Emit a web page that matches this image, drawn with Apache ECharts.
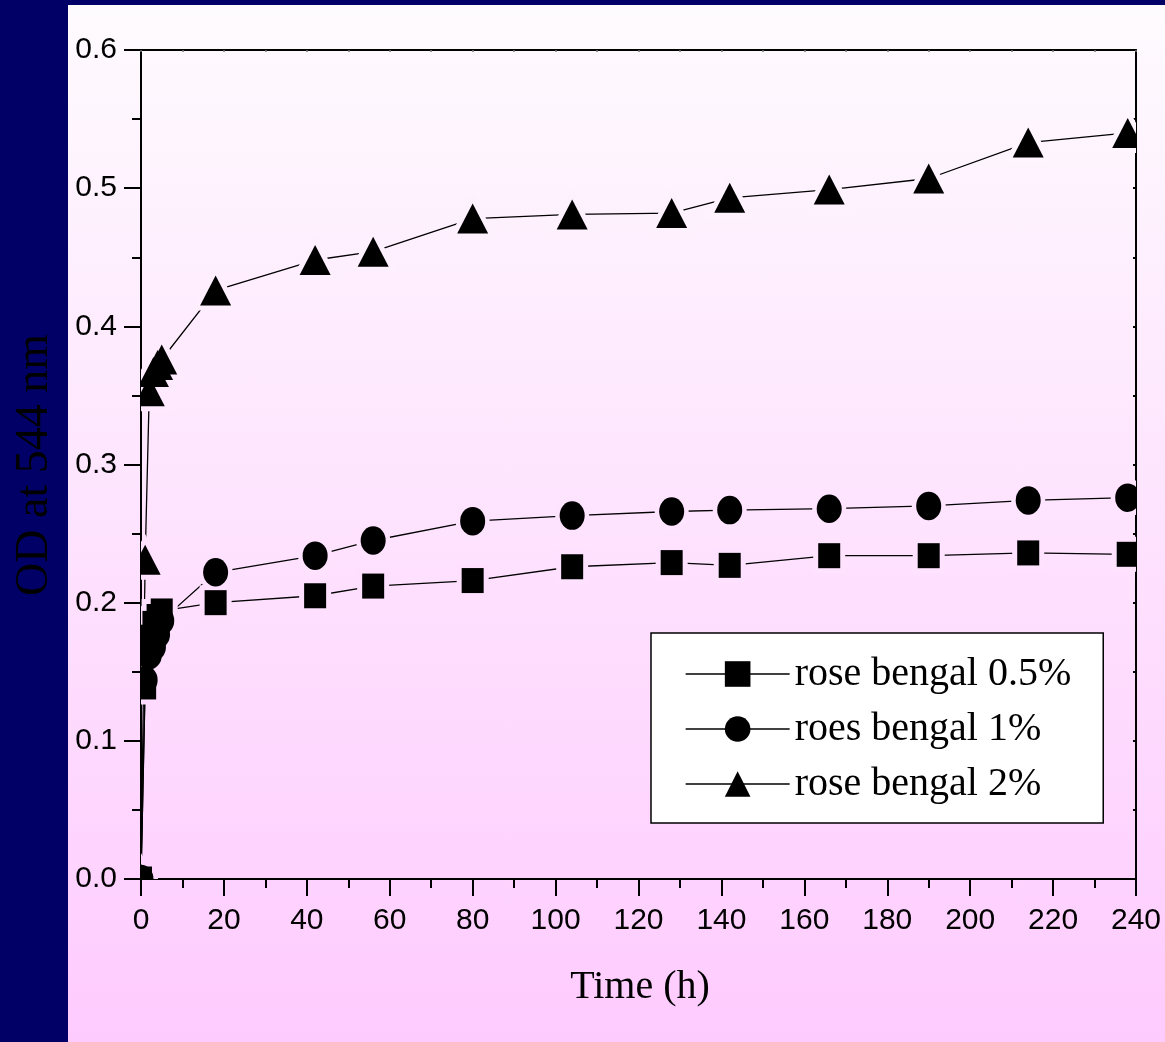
<!DOCTYPE html>
<html>
<head>
<meta charset="utf-8">
<script src="https://cdn.jsdelivr.net/npm/echarts@6/dist/echarts.min.js"></script>
<style>
  html, body { margin: 0; padding: 0; width: 1165px; height: 1042px; overflow: hidden; background: #000066; }
  #panel { position: absolute; left: 68px; top: 5px; width: 1097px; height: 1037px;
           background: linear-gradient(to bottom, #fefbfe, #fecbfe); }
  #chart { position: absolute; left: 0; top: 0; width: 1165px; height: 1042px; }
</style>
</head>
<body>
<div id="panel"></div>
<div id="chart"></div>
<script>
// Sampling times (h)
const times = [0, 1, 2, 3, 4, 5, 18, 42, 56, 80, 104, 128, 142, 166, 190, 214, 238];

// Optical density at 544 nm for each rose bengal concentration
const rb05 = [0, 0.139, 0.175, 0.185, 0.190, 0.194, 0.200, 0.205, 0.212, 0.216, 0.226, 0.229, 0.227, 0.234, 0.234, 0.236, 0.235];
const rb1  = [0, 0.144, 0.162, 0.168, 0.177, 0.187, 0.222, 0.234, 0.245, 0.259, 0.263, 0.266, 0.267, 0.268, 0.270, 0.274, 0.276];
const rb2  = [0, 0.231, 0.353, 0.367, 0.372, 0.376, 0.426, 0.448, 0.454, 0.478, 0.481, 0.482, 0.493, 0.499, 0.507, 0.533, 0.540];

const seriesNames = ['rose bengal 0.5%', 'roes bengal 1%', 'rose bengal 2%'];
const seriesValues = [rb05, rb1, rb2];
const seriesSymbols = ['rect', 'circle', 'triangle'];

// Axis ticks
const xTicks = { min: 0, max: 240, interval: 20 };
const yTicks = { min: 0, max: 0.6, interval: 0.1 };

// Page background colour at a given pixel row (matches the CSS gradient of #panel)
const BG_TOP = [254, 251, 254], BG_BOTTOM = [254, 203, 254];
function bgAt(y) {
  const t = Math.min(1, Math.max(0, (y - 5) / 1037));
  const c = BG_TOP.map((a, i) => Math.round(a + (BG_BOTTOM[i] - a) * t));
  return 'rgb(' + c.join(',') + ')';
}

// Build a marker element at pixel point p; halo = background-coloured outline that breaks the line
function markerEl(kind, p, halo) {
  const fill = halo ? bgAt(p[1]) : '#000';
  const style = halo ? { fill: fill, stroke: fill, lineWidth: 10 } : { fill: fill };
  if (kind === 'rect') {
    return { type: 'rect', shape: { x: p[0] - 11, y: p[1] - 12.5, width: 22, height: 25 }, style: style };
  }
  if (kind === 'circle') {
    return { type: 'circle', x: p[0], y: p[1], scaleY: 1.14, shape: { cx: 0, cy: 0, r: 12.5 },
             style: halo ? { fill: fill, stroke: fill, lineWidth: 9 } : style };
  }
  return { type: 'polygon', shape: { points: [[p[0], p[1] - 15], [p[0] + 15.5, p[1] + 15], [p[0] - 15.5, p[1] + 15]] },
           style: style };
}

function pairs(vals) { return times.map((t, i) => [t, vals[i]]); }

const series = [];
// Connecting lines (also provide the legend entries)
seriesNames.forEach((name, k) => {
  series.push({
    name: name, type: 'line', data: pairs(seriesValues[k]),
    symbol: seriesSymbols[k], showSymbol: false, clip: true,
    color: '#000', lineStyle: { color: '#000', width: 1.3 }, z: 2, silent: true
  });
});
// Halos, then filled markers, clipped to the plot frame
[true, false].forEach((halo) => {
  seriesNames.forEach((name, k) => {
    series.push({
      name: (halo ? 'halo ' : 'marker ') + name, type: 'custom', coordinateSystem: 'cartesian2d',
      data: pairs(seriesValues[k]), encode: { x: 0, y: 1 }, clip: true, silent: true,
      z: halo ? 3 : 4,
      renderItem: (params, api) => markerEl(seriesSymbols[k], api.coord([api.value(0), api.value(1)]), halo)
    });
  });
});

const axisLine = { show: true, onZero: false, lineStyle: { color: '#000', width: 2 } };
const labelFont = { color: '#000', fontFamily: 'Liberation Sans', fontSize: 30 };

const chart = echarts.init(document.getElementById('chart'), null, { renderer: 'canvas' });
chart.setOption({
  animation: false,
  backgroundColor: 'transparent',
  grid: { left: 141, top: 50, right: 29, bottom: 163, containLabel: false },
  xAxis: [
    { type: 'value', position: 'bottom', min: xTicks.min, max: xTicks.max, interval: xTicks.interval,
      axisLine: axisLine,
      axisTick: { show: true, length: 17, lineStyle: { color: '#000', width: 2 } },
      minorTick: { show: true, splitNumber: 2, length: 9, lineStyle: { color: '#000', width: 2 } },
      axisLabel: Object.assign({ margin: 27 }, labelFont),
      splitLine: { show: false } },
    { type: 'value', position: 'top', min: xTicks.min, max: xTicks.max, interval: xTicks.interval,
      axisLine: axisLine,
      axisTick: { show: true, inside: true, length: 2, lineStyle: { color: '#777', width: 1.5 } },
      minorTick: { show: true, splitNumber: 2, length: 2, lineStyle: { color: '#777', width: 1.5 } },
      axisLabel: { show: false }, splitLine: { show: false } }
  ],
  yAxis: [
    { type: 'value', position: 'left', min: yTicks.min, max: yTicks.max, interval: yTicks.interval,
      axisLine: axisLine,
      axisTick: { show: true, length: 17, lineStyle: { color: '#000', width: 2 } },
      minorTick: { show: true, splitNumber: 2, length: 9, lineStyle: { color: '#000', width: 2 } },
      axisLabel: Object.assign({ margin: 24, formatter: (v) => v.toFixed(1) }, labelFont),
      splitLine: { show: false } },
    { type: 'value', position: 'right', min: yTicks.min, max: yTicks.max, interval: yTicks.interval,
      axisLine: axisLine,
      axisTick: { show: true, inside: true, length: 3, lineStyle: { color: '#000', width: 2 } },
      minorTick: { show: true, splitNumber: 2, length: 3, lineStyle: { color: '#000', width: 2 } },
      axisLabel: { show: false }, splitLine: { show: false } }
  ],
  legend: {
    data: seriesNames, orient: 'vertical', left: 651, top: 633,
    backgroundColor: '#fff', borderColor: '#000', borderWidth: 1.5,
    padding: [21, 32, 19, 34], itemWidth: 104, itemHeight: 32, itemGap: 15,
    itemStyle: { color: '#000', borderWidth: 0 },
    lineStyle: { color: '#000', width: 1.3 },
    textStyle: { color: '#000', fontFamily: 'Liberation Serif', fontSize: 40, lineHeight: 40 },
    selectedMode: false
  },
  graphic: [
    { type: 'text', x: 640, y: 987, z: 10,
      style: { text: 'Time (h)', font: '40px "Liberation Serif"', fill: '#000', align: 'center', verticalAlign: 'middle' } },
    { type: 'text', x: 35, y: 465, rotation: Math.PI / 2, z: 10,
      style: { text: 'OD at 544 nm', font: '46px "Liberation Serif"', fill: '#000', align: 'center', verticalAlign: 'middle' } }
  ],
  series: series
});
</script>
</body>
</html>
